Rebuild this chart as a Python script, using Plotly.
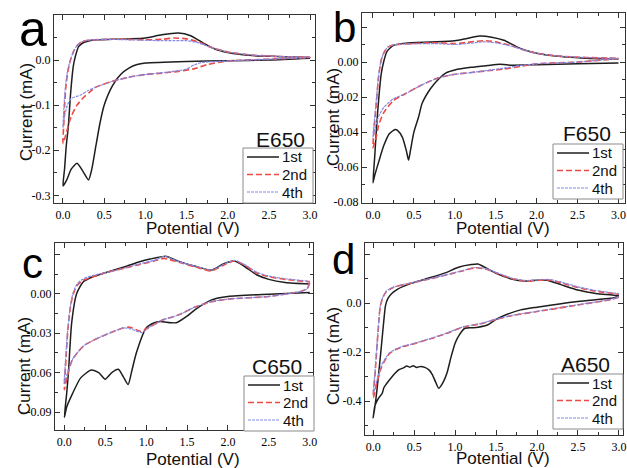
import plotly.graph_objects as go

W, H = 627, 468

# ---------------- data (potential V, current mA) ----------------
# panel a : E650
E650_1ST_V = [3.0, 2.5, 2.0, 1.5, 1.0, 0.9, 0.8, 0.7, 0.6, 0.5, 0.45, 0.4, 0.35, 0.31, 0.25, 0.17, 0.1, 0.05, 0.01, 0.0,
              0.02, 0.04, 0.065, 0.093, 0.125, 0.15, 0.19, 0.25, 0.3, 0.4, 0.6, 0.8, 1.0, 1.2, 1.4, 1.55, 1.7, 1.85, 2.0, 2.3, 2.6, 3.0]
E650_1ST_I = [0.004, 0.0, -0.0015, -0.003, -0.0066, -0.010, -0.018, -0.032, -0.057, -0.100, -0.139, -0.190, -0.242, -0.266, -0.249, -0.229, -0.242, -0.264, -0.277, -0.279,
              -0.24, -0.19, -0.147, -0.073, -0.014, 0.008, 0.030, 0.039, 0.042, 0.045, 0.046, 0.047, 0.049, 0.056, 0.060, 0.054, 0.038, 0.024, 0.017, 0.010, 0.008, 0.006]
E650_2ND_V = [3.0, 2.5, 2.0, 1.75, 1.6, 1.4, 1.2, 1.0, 0.8, 0.6, 0.4, 0.33, 0.25, 0.17, 0.1, 0.05, 0.02, 0.0,
              0.01, 0.02, 0.035, 0.055, 0.08, 0.1, 0.13, 0.17, 0.22, 0.3, 0.5, 0.8, 1.0, 1.2, 1.35, 1.5, 1.65, 1.8, 2.0, 2.3, 2.6, 3.0]
E650_2ND_I = [0.006, 0.002, -0.002, -0.010, -0.019, -0.025, -0.029, -0.032, -0.038, -0.047, -0.060, -0.070, -0.083, -0.100, -0.125, -0.155, -0.175, -0.185,
              -0.14, -0.10, -0.06, -0.03, -0.008, 0.005, 0.020, 0.032, 0.040, 0.044, 0.046, 0.046, 0.045, 0.046, 0.049, 0.047, 0.040, 0.028, 0.018, 0.011, 0.008, 0.006]
E650_4TH_V = [3.0, 2.5, 2.0, 1.7, 1.6, 1.5, 1.3, 1.0, 0.8, 0.6, 0.4, 0.3, 0.22, 0.16, 0.1, 0.06, 0.03, 0.01, 0.0,
              0.01, 0.02, 0.035, 0.055, 0.08, 0.1, 0.13, 0.17, 0.22, 0.3, 0.5, 0.8, 1.0, 1.2, 1.35, 1.5, 1.65, 1.8, 2.0, 2.3, 2.6, 3.0]
E650_4TH_I = [0.006, 0.002, -0.002, -0.005, -0.010, -0.020, -0.026, -0.032, -0.038, -0.047, -0.060, -0.068, -0.077, -0.081, -0.085, -0.097, -0.115, -0.135, -0.150,
              -0.11, -0.08, -0.05, -0.025, -0.006, 0.006, 0.020, 0.032, 0.040, 0.044, 0.046, 0.045, 0.044, 0.043, 0.043, 0.043, 0.038, 0.028, 0.018, 0.011, 0.008, 0.006]

# panel b : F650
F650_1ST_V = [3.0, 2.5, 2.0, 1.7, 1.55, 1.4, 1.2, 1.0, 0.9, 0.8, 0.7, 0.6, 0.56, 0.5, 0.46, 0.435, 0.41, 0.36, 0.3, 0.27, 0.2, 0.13, 0.07, 0.02, 0.0,
              0.02, 0.04, 0.06, 0.08, 0.1, 0.13, 0.17, 0.25, 0.4, 0.7, 1.0, 1.15, 1.3, 1.45, 1.6, 1.8, 2.0, 2.3, 2.6, 3.0]
F650_1ST_I = [-0.0005, -0.001, -0.0015, -0.0018, -0.0013, -0.002, -0.003, -0.0045, -0.006, -0.0098, -0.0154, -0.0237, -0.031, -0.040, -0.050, -0.056, -0.051, -0.043, -0.039, -0.0385, -0.041, -0.048, -0.057, -0.065, -0.069,
              -0.055, -0.040, -0.027, -0.016, -0.007, 0.0, 0.006, 0.0095, 0.0108, 0.0115, 0.0122, 0.0135, 0.0148, 0.0142, 0.0124, 0.0078, 0.005, 0.0031, 0.0022, 0.0017]
F650_2ND_V = [3.0, 2.5, 2.0, 1.8, 1.6, 1.4, 1.2, 1.0, 0.8, 0.6, 0.4, 0.25, 0.13, 0.07, 0.04, 0.0,
              0.02, 0.04, 0.07, 0.1, 0.13, 0.18, 0.25, 0.4, 0.6, 0.8, 1.0, 1.2, 1.35, 1.5, 1.7, 1.85, 2.0, 2.3, 2.6, 3.0]
F650_2ND_I = [0.002, 0.0, -0.001, -0.0025, -0.004, -0.005, -0.006, -0.007, -0.009, -0.013, -0.018, -0.022, -0.029, -0.036, -0.043, -0.049,
              -0.035, -0.024, -0.008, 0.001, 0.005, 0.0085, 0.0098, 0.0103, 0.0108, 0.011, 0.0105, 0.0115, 0.0122, 0.0115, 0.0092, 0.0068, 0.005, 0.0033, 0.0026, 0.0021]
F650_4TH_V = [3.0, 2.5, 2.0, 1.8, 1.6, 1.4, 1.2, 1.0, 0.8, 0.6, 0.4, 0.25, 0.13, 0.07, 0.03, 0.0,
              0.02, 0.04, 0.07, 0.1, 0.13, 0.18, 0.25, 0.4, 0.6, 0.8, 1.0, 1.2, 1.35, 1.5, 1.7, 1.85, 2.0, 2.3, 2.6, 3.0]
F650_4TH_I = [0.002, 0.0, -0.001, -0.002, -0.0035, -0.0048, -0.006, -0.007, -0.009, -0.013, -0.018, -0.021, -0.026, -0.031, -0.037, -0.043,
              -0.032, -0.022, -0.007, 0.001, 0.005, 0.0085, 0.0098, 0.0103, 0.0105, 0.0105, 0.010, 0.0108, 0.0115, 0.011, 0.009, 0.0068, 0.005, 0.0033, 0.0026, 0.0021]

# panel c : C650
C650_1ST_V = [3.0, 2.5, 2.0, 1.8, 1.6, 1.5, 1.37, 1.3, 1.17, 1.1, 1.0, 0.88, 0.82, 0.78, 0.72, 0.66, 0.58, 0.5, 0.42, 0.33, 0.2, 0.1, 0.03, 0.0,
              0.03, 0.05, 0.09, 0.15, 0.23, 0.35, 0.5, 0.76, 0.9, 1.05, 1.25, 1.4, 1.6, 1.8, 1.95, 2.08, 2.2, 2.35, 2.5, 2.7, 3.0]
C650_1ST_I = [0.001, -0.0003, -0.002, -0.0046, -0.012, -0.017, -0.022, -0.022, -0.021, -0.022, -0.026, -0.045, -0.060, -0.069, -0.063, -0.0575, -0.060, -0.065, -0.060, -0.058, -0.064, -0.076, -0.086, -0.094,
              -0.075, -0.060, -0.022, 0.0, 0.009, 0.013, 0.016, 0.021, 0.024, 0.0265, 0.0285, 0.0247, 0.021, 0.018, 0.023, 0.025, 0.021, 0.0145, 0.011, 0.0086, 0.0074]
C650_2ND_V = [3.0, 2.97, 2.9, 2.5, 2.0, 1.8, 1.6, 1.4, 1.2, 1.05, 0.93, 0.8, 0.72, 0.6, 0.4, 0.25, 0.17, 0.1, 0.06, 0.03, 0.0,
              0.02, 0.04, 0.07, 0.1, 0.15, 0.22, 0.35, 0.5, 0.7, 0.9, 1.1, 1.22, 1.4, 1.6, 1.8, 1.95, 2.08, 2.2, 2.35, 2.5, 2.7, 3.0]
C650_2ND_I = [0.0085, 0.004, 0.002, -0.002, -0.004, -0.006, -0.010, -0.016, -0.020, -0.025, -0.0285, -0.0254, -0.026, -0.0287, -0.034, -0.039, -0.044, -0.050, -0.057, -0.065, -0.073,
              -0.050, -0.030, -0.012, -0.002, 0.006, 0.010, 0.013, 0.016, 0.019, 0.022, 0.025, 0.027, 0.024, 0.0205, 0.0175, 0.022, 0.025, 0.022, 0.016, 0.013, 0.011, 0.0092]
C650_4TH_V = [3.0, 2.97, 2.9, 2.5, 2.0, 1.8, 1.6, 1.4, 1.2, 1.05, 0.95, 0.8, 0.72, 0.6, 0.4, 0.25, 0.17, 0.1, 0.06, 0.03, 0.0,
              0.02, 0.04, 0.07, 0.1, 0.15, 0.22, 0.35, 0.5, 0.7, 0.9, 1.1, 1.22, 1.4, 1.6, 1.8, 1.95, 2.08, 2.2, 2.35, 2.5, 2.7, 3.0]
C650_4TH_I = [0.009, 0.004, 0.002, -0.002, -0.004, -0.006, -0.010, -0.016, -0.020, -0.025, -0.0295, -0.0265, -0.026, -0.0287, -0.034, -0.039, -0.044, -0.050, -0.056, -0.062, -0.068,
              -0.046, -0.028, -0.011, -0.001, 0.007, 0.011, 0.014, 0.016, 0.019, 0.0225, 0.0255, 0.0285, 0.0245, 0.021, 0.018, 0.0225, 0.0255, 0.0225, 0.0165, 0.0135, 0.0115, 0.0095]

# panel d : A650
A650_1ST_V = [3.0, 2.9, 2.5, 2.0, 1.8, 1.6, 1.49, 1.4, 1.28, 1.2, 1.12, 1.05, 1.0, 0.95, 0.9, 0.85, 0.8, 0.76, 0.72, 0.68, 0.63, 0.58, 0.53, 0.49, 0.45, 0.41, 0.37, 0.31, 0.27, 0.23, 0.16, 0.13, 0.11, 0.06, 0.02, 0.0,
              0.03, 0.06, 0.09, 0.11, 0.13, 0.15, 0.18, 0.23, 0.3, 0.47, 0.7, 0.88, 1.05, 1.2, 1.28, 1.41, 1.5, 1.7, 1.85, 2.0, 2.12, 2.3, 2.5, 2.7, 3.0]
A650_1ST_I = [0.027, 0.020, 0.007, -0.016, -0.027, -0.050, -0.068, -0.088, -0.098, -0.100, -0.102, -0.130, -0.163, -0.220, -0.286, -0.325, -0.347, -0.320, -0.290, -0.272, -0.262, -0.258, -0.262, -0.255, -0.261, -0.256, -0.264, -0.272, -0.285, -0.300, -0.330, -0.345, -0.368, -0.390, -0.420, -0.468,
              -0.400, -0.310, -0.210, -0.140, -0.070, -0.010, 0.020, 0.041, 0.058, 0.082, 0.105, 0.124, 0.148, 0.158, 0.160, 0.138, 0.122, 0.098, 0.091, 0.094, 0.094, 0.075, 0.054, 0.041, 0.031]
A650_2ND_V = [3.0, 2.9, 2.5, 2.0, 1.7, 1.5, 1.3, 1.1, 0.88, 0.7, 0.47, 0.35, 0.27, 0.2, 0.14, 0.1, 0.045, 0.016, 0.0,
              0.02, 0.05, 0.07, 0.086, 0.12, 0.16, 0.25, 0.35, 0.5, 0.7, 0.9, 1.1, 1.25, 1.4, 1.5, 1.7, 1.85, 2.0, 2.15, 2.3, 2.5, 2.7, 3.0]
A650_2ND_I = [0.025, 0.015, -0.007, -0.034, -0.050, -0.066, -0.085, -0.097, -0.125, -0.145, -0.168, -0.178, -0.190, -0.205, -0.235, -0.262, -0.325, -0.370, -0.386,
              -0.300, -0.160, -0.070, -0.014, 0.025, 0.047, 0.065, 0.074, 0.085, 0.100, 0.116, 0.133, 0.145, 0.137, 0.124, 0.100, 0.091, 0.093, 0.095, 0.083, 0.064, 0.050, 0.037]
A650_4TH_V = [3.0, 2.9, 2.5, 2.0, 1.7, 1.5, 1.3, 1.1, 0.88, 0.7, 0.47, 0.35, 0.27, 0.2, 0.14, 0.1, 0.045, 0.016, 0.0,
              0.02, 0.05, 0.07, 0.086, 0.12, 0.16, 0.25, 0.35, 0.5, 0.7, 0.9, 1.1, 1.25, 1.4, 1.5, 1.7, 1.85, 2.0, 2.15, 2.3, 2.5, 2.7, 3.0]
A650_4TH_I = [0.026, 0.016, -0.006, -0.033, -0.049, -0.065, -0.084, -0.096, -0.124, -0.144, -0.167, -0.177, -0.188, -0.202, -0.230, -0.255, -0.315, -0.355, -0.370,
              -0.290, -0.150, -0.065, -0.012, 0.027, 0.049, 0.066, 0.075, 0.086, 0.101, 0.117, 0.134, 0.146, 0.139, 0.126, 0.102, 0.093, 0.095, 0.097, 0.086, 0.067, 0.053, 0.039]

CYCLES = ["1st", "2nd", "4th"]
X_TICKS = [0.0, 0.5, 1.0, 1.5, 2.0, 2.5, 3.0]
X_TICKTEXT = ["0.0", "0.5", "1.0", "1.5", "2.0", "2.5", "3.0"]

E650_YTICKS = [0.1, 0.0, -0.1, -0.2, -0.3]
E650_YTICKTEXT = ["", "0.0", "-0.1", "-0.2", "-0.3"]
F650_YTICKS = [0.02, 0.0, -0.02, -0.04, -0.06, -0.08]
F650_YTICKTEXT = ["", "0.00", "-0.02", "-0.04", "-0.06", "-0.08"]
C650_YTICKS = [0.03, 0.0, -0.03, -0.06, -0.09]
C650_YTICKTEXT = ["", "0.00", "-0.03", "-0.06", "-0.09"]
A650_YTICKS = [0.2, 0.0, -0.2, -0.4]
A650_YTICKTEXT = ["", "0.0", "-0.2", "-0.4"]

# ---------------- layout helpers (pixel -> paper) ----------------
def px(x):
    return x / W


def py(y):
    return 1 - y / H


STYLES = {
    "1st": dict(color="#1e1e1e", width=1.5, dash="solid"),
    "2nd": dict(color="#ec4a44", width=1.6, dash="6px,3px"),
    "4th": dict(color="#8489e2", width=1.2, dash="3px,1px"),
}

panels = [
    dict(letter="a", name="E650", n="",
         curves=[(E650_1ST_V, E650_1ST_I), (E650_2ND_V, E650_2ND_I), (E650_4TH_V, E650_4TH_I)],
         box=(54, 315, 15, 203), xr=[-0.109, 3.06], yr=[-0.317, 0.1],
         yt=E650_YTICKS, ytt=E650_YTICKTEXT, ydt=0.05,
         letter_xy=(33, 29), letter_size=50, name_xy=(280, 139),
         ytitle_xy=(26, 112), xtitle_xy=(193, 228), legend_xy=(243, 148)),
    dict(letter="b", name="F650", n="2",
         curves=[(F650_1ST_V, F650_1ST_I), (F650_2ND_V, F650_2ND_I), (F650_4TH_V, F650_4TH_I)],
         box=(362, 625, 13, 203), xr=[-0.134, 3.08], yr=[-0.0805, 0.028],
         yt=F650_YTICKS, ytt=F650_YTICKTEXT, ydt=0.01,
         letter_xy=(344, 27), letter_size=42, name_xy=(587, 133),
         ytitle_xy=(333, 117), xtitle_xy=(503, 228), legend_xy=(553, 144)),
    dict(letter="c", name="C650", n="3",
         curves=[(C650_1ST_V, C650_1ST_I), (C650_2ND_V, C650_2ND_I), (C650_4TH_V, C650_4TH_I)],
         box=(55, 313, 243, 430), xr=[-0.114, 3.04], yr=[-0.1037, 0.0387],
         yt=C650_YTICKS, ytt=C650_YTICKTEXT, ydt=0.015,
         letter_xy=(32, 263), letter_size=42, name_xy=(277, 366),
         ytitle_xy=(24, 366), xtitle_xy=(193, 459), legend_xy=(244, 376)),
    dict(letter="d", name="A650", n="4",
         curves=[(A650_1ST_V, A650_1ST_I), (A650_2ND_V, A650_2ND_I), (A650_4TH_V, A650_4TH_I)],
         box=(365, 623, 243, 435), xr=[-0.10, 3.05], yr=[-0.538, 0.246],
         yt=A650_YTICKS, ytt=A650_YTICKTEXT, ydt=0.1,
         letter_xy=(343, 259), letter_size=42, name_xy=(585, 364),
         ytitle_xy=(333, 356), xtitle_xy=(503, 458), legend_xy=(553, 374)),
]

fig = go.Figure()
annotations = []
shapes = []
layout = {}

for p in panels:
    n = p["n"]
    for cyc, (v, i) in zip(CYCLES, p["curves"]):
        fig.add_trace(go.Scatter(
            x=v, y=i, mode="lines", name=cyc, showlegend=False,
            line=dict(shape="spline", smoothing=0.6, **STYLES[cyc]),
            xaxis="x" + n, yaxis="y" + n,
        ))

    x0, x1, y0, y1 = p["box"]
    common = dict(
        showline=True, linecolor="#333", linewidth=1.2, mirror="ticks",
        ticks="inside", ticklen=5, tickwidth=1, tickcolor="#333",
        showgrid=False, zeroline=False, automargin=False,
        tickfont=dict(family="Liberation Serif", size=12, color="#000"),
        tickmode="array",
    )
    layout["xaxis" + n] = dict(
        common, domain=[px(x0), px(x1)], range=p["xr"], anchor="y" + n,
        tickvals=X_TICKS, ticktext=X_TICKTEXT,
        minor=dict(tickmode="linear", tick0=0, dtick=0.25, ticks="inside", ticklen=3, tickcolor="#333"),
    )
    layout["yaxis" + n] = dict(
        common, domain=[py(y1), py(y0)], range=p["yr"], anchor="x" + n,
        tickvals=p["yt"], ticktext=p["ytt"],
        minor=dict(tickmode="linear", tick0=0, dtick=p["ydt"], ticks="inside", ticklen=3, tickcolor="#333"),
    )

    # legend box drawn by hand (plotly's own legend rows are too tall for this figure)
    lx, ly = p["legend_xy"]
    shapes.append(dict(type="rect", xref="paper", yref="paper",
                       x0=px(lx), x1=px(lx + 70), y0=py(ly + 55), y1=py(ly),
                       line=dict(color="#8a8a8a", width=1), fillcolor="white", layer="above"))
    for k, cyc in enumerate(CYCLES):
        row = ly + 9 + 17.5 * k
        shapes.append(dict(type="line", xref="paper", yref="paper",
                           x0=px(lx + 4), x1=px(lx + 36), y0=py(row), y1=py(row),
                           line=STYLES[cyc], layer="above"))
        annotations.append(dict(text=cyc, x=px(lx + 37), y=py(row), xanchor="left",
                                font=dict(family="Liberation Sans", size=15, color="#111")))

    annotations += [
        dict(text=p["letter"], x=px(p["letter_xy"][0]), y=py(p["letter_xy"][1]),
             font=dict(family="Liberation Sans", size=p["letter_size"], color="black")),
        dict(text=p["name"], x=px(p["name_xy"][0]), y=py(p["name_xy"][1]),
             font=dict(family="Liberation Sans", size=21, color="#111")),
        dict(text="Current (mA)", x=px(p["ytitle_xy"][0]), y=py(p["ytitle_xy"][1]), textangle=-90,
             font=dict(family="Liberation Sans", size=17, color="#111")),
        dict(text="Potential (V)", x=px(p["xtitle_xy"][0]), y=py(p["xtitle_xy"][1]),
             font=dict(family="Liberation Sans", size=17, color="#111")),
    ]

for a in annotations:
    a.setdefault("xanchor", "center")
    a.update(xref="paper", yref="paper", showarrow=False, yanchor="middle")

fig.update_layout(
    width=W, height=H, template="none",
    paper_bgcolor="white", plot_bgcolor="white",
    margin=dict(l=0, r=0, t=0, b=0),
    showlegend=False, annotations=annotations, shapes=shapes,
    **layout,
)

# the page's default 8px body margin would push the 627x468 figure off the window
fig.write_html("out.html", config={"displayModeBar": False},
               post_script="document.body.style.margin='0';")
